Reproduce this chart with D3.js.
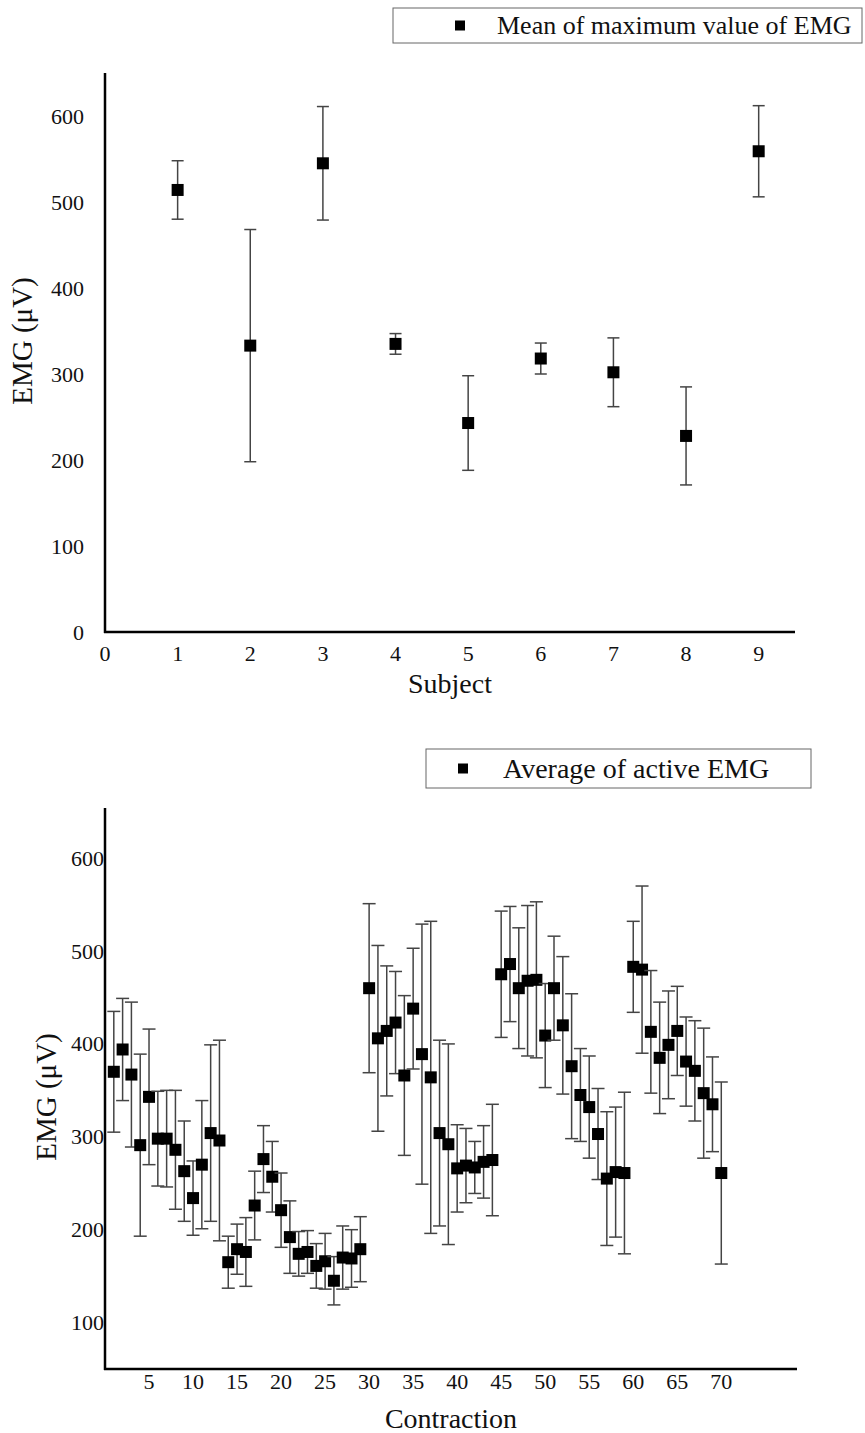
<!DOCTYPE html>
<html lang="en">
<head>
    <meta charset="UTF-8">
    <title>EMG by subject and contraction</title>
    <script src="https://d3js.org/d3.v7.min.js"></script>
    <style>
        body { margin: 0; background: #fff; }
        text { font-family: "Liberation Serif", "DejaVu Serif", serif; }
        .axis-line { stroke: #000; stroke-width: 2.5px; }
        .err { stroke: #444; stroke-width: 1.5px; }
        .tick-label { font-size: 22px; fill: #111; }
        .title { fill: #111; }
        .legend-box { fill: #fff; stroke: #666; stroke-width: 1px; }
    </style>
</head>
<body>
    <svg width="865" height="1433"></svg>
    <script>
        // Top chart: mean of maximum EMG per subject
        const subjects = [1, 2, 3, 4, 5, 6, 7, 8, 9];
        const maxMean = [514, 333, 545, 335, 243, 318, 302, 228, 559];
        const maxErr = [34, 135, 66, 12, 55, 18, 40, 57, 53];
        const subjectTicks = [0, 1, 2, 3, 4, 5, 6, 7, 8, 9];
        const topYTicks = [0, 100, 200, 300, 400, 500, 600];

        // Bottom chart: average of active EMG per contraction (1..70)
        const activeMean = [
            370, 394, 367, 291, 343, 298, 298, 286, 263, 234,
            270, 304, 296, 165, 179, 176, 226, 276, 257, 221,
            192, 174, 176, 161, 166, 145, 170, 169, 179, 460,
            406, 414, 423, 366, 438, 389, 364, 304, 292, 266,
            269, 267, 273, 275, 475, 486, 460, 468, 469, 409,
            460, 420, 376, 345, 332, 303, 255, 262, 261, 483,
            480, 413, 385, 399, 414, 381, 371, 347, 335, 261
        ];
        const activeErr = [
            65, 55, 78, 98, 73, 51, 52, 64, 54, 40,
            69, 95, 108, 28, 27, 37, 37, 36, 38, 40,
            39, 24, 23, 24, 30, 26, 34, 31, 35, 91,
            100, 70, 55, 86, 65, 140, 168, 100, 108, 47,
            40, 28, 39, 60, 68, 62, 65, 81, 84, 56,
            56, 74, 78, 50, 55, 49, 72, 70, 87, 49,
            90, 66, 60, 58, 48, 48, 54, 70, 51, 98
        ];
        const contractionTicks = [5, 10, 15, 20, 25, 30, 35, 40, 45, 50, 55, 60, 65, 70];
        const bottomYTicks = [100, 200, 300, 400, 500, 600];

        const svg = d3.select("svg");
        const FONT = "'Liberation Serif', 'DejaVu Serif', serif";

        // draws one error-bar panel
        function drawPanel(opt) {
            const g = svg.append("g").attr("font-family", FONT);
            const x = opt.x, y = opt.y;
            const [x0, x1] = x.range();
            const [yb, yt] = y.range();

            // error bars
            const bars = g.selectAll(".bar").data(opt.means).enter().append("g");
            bars.append("line").attr("class", "err")
                .attr("x1", (d, i) => x(opt.xs[i])).attr("x2", (d, i) => x(opt.xs[i]))
                .attr("y1", (d, i) => y(d + opt.errs[i])).attr("y2", (d, i) => y(d - opt.errs[i]));
            bars.append("line").attr("class", "err")
                .attr("x1", (d, i) => x(opt.xs[i]) - opt.cap).attr("x2", (d, i) => x(opt.xs[i]) + opt.cap)
                .attr("y1", (d, i) => y(d + opt.errs[i])).attr("y2", (d, i) => y(d + opt.errs[i]));
            bars.append("line").attr("class", "err")
                .attr("x1", (d, i) => x(opt.xs[i]) - opt.cap).attr("x2", (d, i) => x(opt.xs[i]) + opt.cap)
                .attr("y1", (d, i) => y(d - opt.errs[i])).attr("y2", (d, i) => y(d - opt.errs[i]));
            bars.append("rect")
                .attr("x", (d, i) => x(opt.xs[i]) - opt.size / 2)
                .attr("y", d => y(d) - opt.size / 2)
                .attr("width", opt.size).attr("height", opt.size)
                .attr("fill", "#000");

            // axes
            g.append("line").attr("class", "axis-line")
                .attr("x1", x0).attr("x2", x0).attr("y1", yt).attr("y2", yb + 1);
            g.append("line").attr("class", "axis-line")
                .attr("x1", x0 - 1).attr("x2", x1).attr("y1", yb).attr("y2", yb);

            g.selectAll(".ylab").data(opt.yTicks).enter().append("text")
                .attr("class", "tick-label")
                .attr("x", x0 - opt.yLabelGap).attr("y", d => y(d))
                .attr("text-anchor", "end").attr("dominant-baseline", "central")
                .text(d => d);
            g.selectAll(".xlab").data(opt.xTicks).enter().append("text")
                .attr("class", "tick-label")
                .attr("x", d => x(d)).attr("y", yb + opt.xLabelGap)
                .attr("text-anchor", "middle").attr("dominant-baseline", "central")
                .text(d => d);

            // titles
            g.append("text").attr("class", "title")
                .attr("transform", `translate(${opt.yTitle[0]},${opt.yTitle[1]}) rotate(-90)`)
                .attr("text-anchor", "middle").attr("dominant-baseline", "central")
                .style("font-size", opt.yTitle[2] + "px")
                .text("EMG (\u03BCV)");
            g.append("text").attr("class", "title")
                .attr("x", opt.xTitle[0]).attr("y", opt.xTitle[1])
                .attr("text-anchor", "middle").attr("dominant-baseline", "central")
                .style("font-size", "28px")
                .text(opt.xLabel);

            // legend
            const L = opt.legend;
            g.append("rect").attr("class", "legend-box")
                .attr("x", L.x).attr("y", L.y).attr("width", L.w).attr("height", L.h);
            g.append("rect").attr("fill", "#000")
                .attr("x", L.mx - 5).attr("y", L.y + L.h / 2 - 5).attr("width", 10).attr("height", 10);
            g.append("text").attr("class", "title")
                .attr("x", L.tx).attr("y", L.y + L.h / 2)
                .attr("dominant-baseline", "central")
                .style("font-size", L.fs + "px")
                .text(L.text);
        }

        drawPanel({
            x: d3.scaleLinear().domain([0, 9.5]).range([105, 795]),
            y: d3.scaleLinear().domain([0, 650]).range([632, 73]),
            xs: subjects, means: maxMean, errs: maxErr,
            xTicks: subjectTicks, yTicks: topYTicks,
            cap: 6, size: 12, yLabelGap: 21, xLabelGap: 21,
            yTitle: [22, 341, 29], xTitle: [450, 683], xLabel: "Subject",
            legend: {x: 393, y: 8, w: 469, h: 35, mx: 460, tx: 497, fs: 26,
                     text: "Mean of maximum value of EMG"}
        });

        drawPanel({
            x: d3.scaleLinear().domain([0, 78.6]).range([105, 797]),
            y: d3.scaleLinear().domain([50, 654]).range([1369, 808]),
            xs: activeMean.map((d, i) => i + 1), means: activeMean, errs: activeErr,
            xTicks: contractionTicks, yTicks: bottomYTicks,
            cap: 6.5, size: 12, yLabelGap: 1, xLabelGap: 12,
            yTitle: [46, 1097, 29], xTitle: [451, 1418], xLabel: "Contraction",
            legend: {x: 426, y: 749, w: 385, h: 39, mx: 463, tx: 503, fs: 28,
                     text: "Average of active EMG"}
        });
    </script>
</body>
</html>
